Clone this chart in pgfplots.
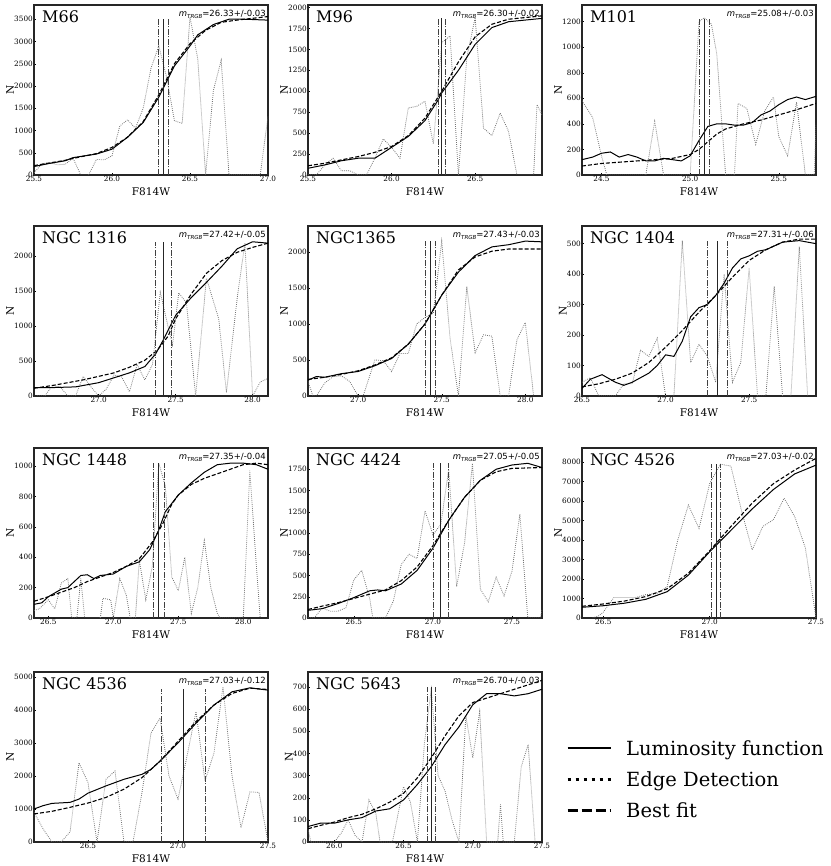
\documentclass[border=0pt]{standalone}
\usepackage{pgfplots}
\pgfplotsset{compat=1.18}
\usepackage{fontspec}
\setmainfont{DejaVu Serif}
\newfontfamily\dvsans{DejaVu Sans}
\definecolor{edgec}{gray}{0.45}
\definecolor{vcol}{gray}{0.25}
\newcommand{\mt}[2]{{\itshape m}\raisebox{-0.4ex}{\fontsize{5.5}{6}\selectfont\itshape TRGB}=#1+/-#2}
\newcommand{\gname}[1]{\node[anchor=north west, inner sep=0pt, xshift=8pt, yshift=-5pt, font=\fontsize{16}{17}\selectfont] at (rel axis cs:0,1) {#1};}
\newcommand{\gmt}[2]{\node[anchor=north east, inner sep=0pt, xshift=-2pt, yshift=-5pt, font=\dvsans\fontsize{8.5}{9}\selectfont] at (rel axis cs:1,1) {\mt{#1}{#2}};}
\pgfplotsset{
  panel/.style={scale only axis, width=234pt, height=170pt, anchor=north west,
    ymin=0, axis line style={line width=1.4pt, black!85},
    xtick pos=left, ytick pos=left, tick align=inside,
    major tick length=2pt, tick style={black, line width=0.4pt},
    ticklabel style={font=\fontsize{7.3}{8}\selectfont, inner sep=1pt},
    /pgf/number format/assume math mode=true,
    scaled ticks=false,
    yticklabel style={/pgf/number format/.cd, fixed, 1000 sep={}},
    xticklabel style={/pgf/number format/.cd, fixed, fixed zerofill, precision=1},
    xlabel={F814W}, ylabel={N},
    label style={font=\fontsize{10.5}{12}\selectfont},
    xlabel style={inner sep=0pt, yshift=-5pt},
    ylabel style={inner sep=0pt, yshift=-1pt},
    clip=true},
  lf/.style={black, line width=1pt, no marks},
  bf/.style={black, line width=1.1pt, dash pattern=on 4pt off 2pt, no marks},
  ed/.style={edgec, line width=0.8pt, dash pattern=on 0.8pt off 1.2pt, no marks},
  vs/.style={black!85, line width=0.7pt, no marks},
  vd/.style={vcol, line width=0.8pt, dash pattern=on 6pt off 1.5pt on 1pt off 1.5pt, no marks},
}
\begin{document}
\begin{tikzpicture}
\useasboundingbox (0pt,0pt) rectangle (830pt,866pt);

% ---------- M66 ----------
\begin{axis}[panel, at={(34pt,861pt)}, xmin=25.5, xmax=27.0, ymax=3820,
  xtick={25.5,26.0,26.5,27.0}, ytick={0,500,...,3500}]
\addplot[ed] coordinates {(25.5,50)(25.55,250)(25.6,280)(25.65,230)(25.7,240)(25.75,380)(25.8,0)(25.85,0)(25.9,350)(25.95,340)(26.0,430)(26.05,1100)(26.1,1240)(26.15,1050)(26.2,1500)(26.25,2400)(26.3,2900)(26.35,2200)(26.4,1220)(26.45,1160)(26.5,3550)(26.55,2600)(26.6,0)(26.65,1900)(26.7,2580)(26.75,0)(26.95,0)(27.0,1320)};
\addplot[lf] coordinates {(25.5,190)(25.6,260)(25.7,320)(25.75,390)(25.9,470)(26.0,580)(26.1,850)(26.2,1180)(26.3,1750)(26.35,2100)(26.4,2450)(26.5,2900)(26.55,3150)(26.65,3380)(26.75,3500)(26.85,3500)(27.0,3480)};
\addplot[bf] coordinates {(25.5,210)(25.6,270)(25.7,330)(25.8,410)(25.9,480)(26.0,620)(26.1,850)(26.2,1200)(26.3,1800)(26.35,2150)(26.4,2500)(26.5,2950)(26.6,3250)(26.7,3430)(26.8,3480)(27.0,3560)};
\addplot[vs] coordinates {(26.33,0)(26.33,3510)};
\addplot[vd] coordinates {(26.30,0)(26.30,3510)};
\addplot[vd] coordinates {(26.36,0)(26.36,3510)};
\gname{M66}\gmt{26.33}{0.03}
\end{axis}

% ---------- M96 ----------
\begin{axis}[panel, at={(308pt,861pt)}, xmin=25.5, xmax=26.9, ymax=2030,
  xtick={25.5,26.0,26.5}, ytick={0,250,...,2000}]
\addplot[ed] coordinates {(25.5,0)(25.55,0)(25.6,120)(25.65,200)(25.7,50)(25.75,50)(25.8,0)(25.85,0)(25.9,200)(25.95,430)(26.0,330)(26.05,200)(26.1,800)(26.15,820)(26.2,880)(26.25,370)(26.3,1580)(26.35,1660)(26.4,0)(26.45,1400)(26.5,1880)(26.55,560)(26.6,470)(26.65,740)(26.7,520)(26.75,0)(26.85,0)(26.87,840)(26.9,720)};
\addplot[lf] coordinates {(25.5,80)(25.6,120)(25.7,170)(25.8,200)(25.9,200)(26.0,330)(26.1,460)(26.2,650)(26.28,900)(26.3,980)(26.4,1250)(26.5,1560)(26.6,1760)(26.7,1830)(26.9,1870)};
\addplot[bf] coordinates {(25.5,110)(25.6,140)(25.7,180)(25.8,220)(25.9,270)(26.0,340)(26.1,470)(26.2,680)(26.3,1000)(26.4,1350)(26.5,1650)(26.6,1800)(26.7,1860)(26.9,1900)};
\addplot[vs] coordinates {(26.30,0)(26.30,1870)};
\addplot[vd] coordinates {(26.28,0)(26.28,1870)};
\addplot[vd] coordinates {(26.32,0)(26.32,1870)};
\gname{M96}\gmt{26.30}{0.02}
\end{axis}

% ---------- M101 ----------
\begin{axis}[panel, at={(582pt,861pt)}, xmin=24.39, xmax=25.71, ymax=1330,
  xtick={24.5,25.0,25.5}, ytick={0,200,...,1200}]
\addplot[ed] coordinates {(24.39,580)(24.45,450)(24.5,150)(24.53,0)(24.75,0)(24.8,420)(24.85,0)(25.0,0)(25.05,1200)(25.08,1230)(25.12,1180)(25.15,950)(25.2,0)(25.25,0)(25.27,560)(25.32,520)(25.37,240)(25.42,500)(25.47,610)(25.5,300)(25.55,150)(25.6,570)(25.65,0)(25.7,0)(25.71,400)};
\addplot[lf] coordinates {(24.39,120)(24.45,140)(24.5,170)(24.55,180)(24.6,140)(24.65,160)(24.7,140)(24.75,110)(24.8,110)(24.85,130)(24.9,120)(24.95,110)(25.0,150)(25.05,270)(25.1,380)(25.15,400)(25.2,400)(25.25,390)(25.3,390)(25.35,410)(25.4,470)(25.45,500)(25.5,550)(25.55,590)(25.6,610)(25.65,590)(25.71,615)};
\addplot[bf] coordinates {(24.39,70)(24.5,90)(24.6,100)(24.7,110)(24.8,120)(24.9,130)(25.0,160)(25.05,200)(25.1,260)(25.15,320)(25.2,360)(25.3,400)(25.4,430)(25.5,470)(25.6,510)(25.71,560)};
\addplot[vs] coordinates {(25.08,0)(25.08,1220)};
\addplot[vd] coordinates {(25.05,0)(25.05,1220)};
\addplot[vd] coordinates {(25.11,0)(25.11,1220)};
\gname{M101}\gmt{25.08}{0.03}
\end{axis}

% ---------- NGC 1316 ----------
\begin{axis}[panel, at={(34pt,640pt)}, xmin=26.58, xmax=28.1, ymax=2425,
  xtick={27.0,27.5,28.0}, ytick={0,500,...,2000}]
\addplot[ed] coordinates {(26.6,0)(26.65,0)(26.7,150)(26.75,130)(26.8,0)(26.85,0)(26.9,280)(26.95,130)(27.0,0)(27.05,100)(27.1,300)(27.15,270)(27.2,60)(27.25,450)(27.3,230)(27.35,450)(27.4,1480)(27.45,1000)(27.48,730)(27.52,1470)(27.57,1330)(27.63,0)(27.7,1680)(27.78,1100)(27.83,50)(27.9,1400)(27.95,2180)(28.0,0)(28.05,200)(28.1,250)};
\addplot[lf] coordinates {(26.58,120)(26.7,120)(26.85,130)(27.0,190)(27.1,260)(27.2,330)(27.3,420)(27.37,600)(27.42,800)(27.5,1150)(27.6,1400)(27.7,1620)(27.8,1850)(27.9,2100)(28.0,2200)(28.1,2180)};
\addplot[bf] coordinates {(26.58,110)(26.7,150)(26.8,190)(26.9,230)(27.0,280)(27.1,330)(27.2,410)(27.3,510)(27.38,650)(27.45,850)(27.5,1100)(27.6,1450)(27.7,1750)(27.8,1930)(27.9,2050)(28.0,2120)(28.1,2180)};
\addplot[vs] coordinates {(27.42,0)(27.42,2200)};
\addplot[vd] coordinates {(27.37,0)(27.37,2200)};
\addplot[vd] coordinates {(27.47,0)(27.47,2200)};
\gname{NGC 1316}\gmt{27.42}{0.05}
\end{axis}

% ---------- NGC1365 ----------
\begin{axis}[panel, at={(308pt,640pt)}, xmin=26.7, xmax=28.1, ymax=2360,
  xtick={27.0,27.5,28.0}, ytick={0,500,...,2000}]
\addplot[ed] coordinates {(26.7,200)(26.73,0)(26.75,0)(26.8,180)(26.85,270)(26.9,280)(26.95,200)(27.0,0)(27.03,0)(27.1,500)(27.15,490)(27.2,340)(27.25,590)(27.3,590)(27.35,1000)(27.4,1090)(27.45,1150)(27.5,2150)(27.55,800)(27.6,0)(27.65,1520)(27.7,600)(27.75,850)(27.8,830)(27.85,0)(27.9,0)(27.95,780)(28.0,1020)(28.05,0)};
\addplot[lf] coordinates {(26.7,220)(26.75,270)(26.8,260)(26.9,310)(27.0,340)(27.1,420)(27.2,520)(27.3,720)(27.4,1000)(27.5,1400)(27.6,1720)(27.7,1950)(27.8,2070)(27.9,2100)(28.0,2150)(28.1,2140)};
\addplot[bf] coordinates {(26.7,230)(26.8,260)(26.9,300)(27.0,350)(27.1,430)(27.2,530)(27.3,720)(27.4,1000)(27.5,1400)(27.6,1750)(27.7,1930)(27.8,2010)(27.9,2040)(28.1,2040)};
\addplot[vs] coordinates {(27.43,0)(27.43,2150)};
\addplot[vd] coordinates {(27.40,0)(27.40,2150)};
\addplot[vd] coordinates {(27.46,0)(27.46,2150)};
\gname{NGC1365}\gmt{27.43}{0.03}
\end{axis}

% ---------- NGC 1404 ----------
\begin{axis}[panel, at={(582pt,640pt)}, xmin=26.5, xmax=27.9, ymax=558,
  xtick={26.5,27.0,27.5}, ytick={0,100,...,500}]
\addplot[ed] coordinates {(26.5,45)(26.55,60)(26.6,0)(26.7,0)(26.75,40)(26.8,40)(26.85,150)(26.9,130)(26.95,190)(27.0,0)(27.05,0)(27.1,510)(27.15,110)(27.2,170)(27.25,130)(27.3,45)(27.35,400)(27.4,45)(27.45,110)(27.5,420)(27.55,0)(27.6,0)(27.65,360)(27.7,0)(27.75,0)(27.8,490)(27.85,0)};
\addplot[lf] coordinates {(26.5,25)(26.55,55)(26.62,70)(26.7,45)(26.75,35)(26.8,45)(26.85,60)(26.9,75)(26.95,100)(27.0,135)(27.05,130)(27.1,180)(27.15,260)(27.2,290)(27.25,300)(27.3,330)(27.35,370)(27.4,420)(27.45,450)(27.5,460)(27.55,475)(27.6,480)(27.7,505)(27.8,510)(27.9,500)};
\addplot[bf] coordinates {(26.5,30)(26.6,40)(26.7,55)(26.8,75)(26.9,110)(27.0,160)(27.1,215)(27.2,275)(27.3,330)(27.4,390)(27.5,445)(27.6,480)(27.7,505)(27.8,515)(27.9,515)};
\addplot[vs] coordinates {(27.31,0)(27.31,510)};
\addplot[vd] coordinates {(27.25,0)(27.25,510)};
\addplot[vd] coordinates {(27.37,0)(27.37,510)};
\gname{NGC 1404}\gmt{27.31}{0.06}
\end{axis}

% ---------- NGC 1448 ----------
\begin{axis}[panel, at={(34pt,418pt)}, xmin=26.39, xmax=28.19, ymax=1120,
  xtick={26.5,27.0,27.5,28.0}, ytick={0,200,...,1000}]
\addplot[ed] coordinates {(26.39,50)(26.43,60)(26.5,120)(26.55,60)(26.6,230)(26.65,260)(26.68,0)(26.72,0)(26.75,260)(26.78,0)(26.9,0)(26.92,130)(26.98,120)(27.0,0)(27.05,260)(27.1,150)(27.13,0)(27.17,0)(27.2,380)(27.25,120)(27.3,340)(27.35,1020)(27.4,870)(27.45,270)(27.5,180)(27.55,400)(27.6,30)(27.65,200)(27.7,510)(27.75,200)(27.8,30)(27.82,0)(28.0,0)(28.05,970)(28.1,350)(28.13,0)};
\addplot[lf] coordinates {(26.39,90)(26.45,100)(26.5,140)(26.6,190)(26.65,200)(26.7,240)(26.75,280)(26.8,285)(26.85,260)(26.9,280)(27.0,290)(27.1,340)(27.2,370)(27.28,450)(27.35,580)(27.4,700)(27.5,810)(27.6,890)(27.7,960)(27.8,1010)(27.9,1020)(28.0,1020)(28.1,1010)(28.19,980)};
\addplot[bf] coordinates {(26.39,110)(26.5,140)(26.6,170)(26.7,200)(26.8,240)(26.9,270)(27.0,300)(27.1,340)(27.2,390)(27.3,500)(27.38,620)(27.45,750)(27.5,810)(27.6,880)(27.7,920)(27.8,950)(27.9,980)(28.0,1010)(28.1,1020)(28.19,1010)};
\addplot[vs] coordinates {(27.35,0)(27.35,1020)};
\addplot[vd] coordinates {(27.31,0)(27.31,1020)};
\addplot[vd] coordinates {(27.39,0)(27.39,1020)};
\gname{NGC 1448}\gmt{27.35}{0.04}
\end{axis}

% ---------- NGC 4424 ----------
\begin{axis}[panel, at={(308pt,418pt)}, xmin=26.21, xmax=27.69, ymax=2000,
  xtick={26.5,27.0,27.5}, ytick={0,250,...,1750}]
\addplot[ed] coordinates {(26.21,0)(26.25,0)(26.3,120)(26.35,80)(26.4,80)(26.45,120)(26.5,450)(26.55,560)(26.6,230)(26.62,0)(26.7,0)(26.75,200)(26.8,630)(26.85,750)(26.9,700)(26.95,1260)(27.0,980)(27.05,1100)(27.1,1750)(27.15,370)(27.2,880)(27.25,1820)(27.3,340)(27.35,190)(27.4,480)(27.45,260)(27.5,550)(27.55,1220)(27.6,0)(27.68,0)(27.69,100)};
\addplot[lf] coordinates {(26.21,90)(26.3,110)(26.4,170)(26.5,240)(26.6,320)(26.65,330)(26.7,320)(26.8,400)(26.9,560)(27.0,820)(27.1,1150)(27.2,1420)(27.3,1620)(27.4,1750)(27.5,1800)(27.6,1820)(27.69,1770)};
\addplot[bf] coordinates {(26.21,100)(26.3,140)(26.4,180)(26.5,230)(26.6,280)(26.7,330)(26.8,440)(26.9,600)(27.0,850)(27.1,1150)(27.2,1420)(27.3,1620)(27.4,1720)(27.5,1760)(27.69,1770)};
\addplot[vs] coordinates {(27.05,0)(27.05,1820)};
\addplot[vd] coordinates {(27.00,0)(27.00,1820)};
\addplot[vd] coordinates {(27.10,0)(27.10,1820)};
\gname{NGC 4424}\gmt{27.05}{0.05}
\end{axis}

% ---------- NGC 4526 ----------
\begin{axis}[panel, at={(582pt,418pt)}, xmin=26.4, xmax=27.5, ymax=8730,
  xtick={26.5,27.0,27.5}, ytick={0,1000,...,8000}]
\addplot[ed] coordinates {(26.45,0)(26.48,120)(26.5,300)(26.55,1050)(26.6,1050)(26.65,1050)(26.7,1200)(26.75,1250)(26.8,1600)(26.85,4000)(26.9,5800)(26.95,4600)(27.0,6900)(27.05,7900)(27.1,7800)(27.15,5500)(27.2,3500)(27.25,4700)(27.3,5050)(27.35,6150)(27.4,5200)(27.45,3600)(27.5,0)};
\addplot[lf] coordinates {(26.4,550)(26.5,630)(26.6,760)(26.7,960)(26.8,1350)(26.9,2200)(27.0,3400)(27.1,4500)(27.2,5600)(27.3,6600)(27.4,7400)(27.5,7850)};
\addplot[bf] coordinates {(26.4,600)(26.5,720)(26.6,870)(26.7,1100)(26.8,1500)(26.9,2300)(27.0,3450)(27.1,4700)(27.2,5900)(27.3,6900)(27.4,7600)(27.5,8200)};
\addplot[vs] coordinates {(27.03,0)(27.03,7900)};
\addplot[vd] coordinates {(27.01,0)(27.01,7900)};
\addplot[vd] coordinates {(27.05,0)(27.05,7900)};
\gname{NGC 4526}\gmt{27.03}{0.02}
\end{axis}

% ---------- NGC 4536 ----------
\begin{axis}[panel, at={(34pt,194pt)}, xmin=26.2, xmax=27.5, ymax=5150,
  xtick={26.5,27.0,27.5}, ytick={0,1000,...,5000}]
\addplot[ed] coordinates {(26.2,900)(26.25,400)(26.3,0)(26.35,0)(26.4,300)(26.45,2400)(26.5,1800)(26.55,0)(26.6,1900)(26.65,2150)(26.7,0)(26.75,0)(26.8,1500)(26.85,3300)(26.9,3750)(26.95,2000)(27.0,1300)(27.05,2600)(27.1,3950)(27.15,1850)(27.2,2700)(27.25,4700)(27.3,2000)(27.35,430)(27.4,1520)(27.45,1500)(27.5,0)};
\addplot[lf] coordinates {(26.2,1000)(26.25,1100)(26.3,1170)(26.4,1200)(26.45,1300)(26.5,1480)(26.6,1700)(26.7,1900)(26.8,2050)(26.85,2200)(26.9,2450)(27.0,3000)(27.1,3600)(27.2,4150)(27.3,4550)(27.4,4670)(27.5,4600)};
\addplot[bf] coordinates {(26.2,850)(26.3,930)(26.4,1050)(26.5,1180)(26.6,1350)(26.7,1600)(26.8,1950)(26.9,2450)(27.0,3050)(27.1,3650)(27.2,4150)(27.3,4500)(27.4,4660)(27.5,4620)};
\addplot[vs] coordinates {(27.03,0)(27.03,4650)};
\addplot[vd] coordinates {(26.91,0)(26.91,4650)};
\addplot[vd] coordinates {(27.15,0)(27.15,4650)};
\gname{NGC 4536}\gmt{27.03}{0.12}
\end{axis}

% ---------- NGC 5643 ----------
\begin{axis}[panel, at={(308pt,194pt)}, xmin=25.81, xmax=27.5, ymax=768,
  xtick={26.0,26.5,27.0,27.5}, ytick={0,100,...,700}]
\addplot[ed] coordinates {(25.81,60)(25.83,0)(26.0,0)(26.05,40)(26.1,100)(26.15,30)(26.2,0)(26.25,190)(26.3,130)(26.33,0)(26.42,0)(26.5,250)(26.55,180)(26.6,0)(26.65,440)(26.7,690)(26.75,300)(26.8,230)(26.85,100)(26.9,0)(26.95,570)(27.0,380)(27.05,590)(27.1,0)(27.18,0)(27.2,170)(27.22,0)(27.3,0)(27.35,340)(27.4,440)(27.45,0)};
\addplot[lf] coordinates {(25.81,70)(25.9,85)(26.0,85)(26.1,100)(26.2,110)(26.3,140)(26.4,150)(26.5,190)(26.6,260)(26.7,340)(26.8,440)(26.9,520)(27.0,620)(27.1,670)(27.2,670)(27.3,660)(27.4,670)(27.5,690)};
\addplot[bf] coordinates {(25.81,60)(25.9,75)(26.0,90)(26.1,110)(26.2,125)(26.3,150)(26.4,180)(26.5,220)(26.6,290)(26.7,380)(26.8,480)(26.9,570)(27.0,630)(27.1,650)(27.2,670)(27.3,690)(27.4,710)(27.5,730)};
\addplot[vs] coordinates {(26.70,0)(26.70,700)};
\addplot[vd] coordinates {(26.67,0)(26.67,700)};
\addplot[vd] coordinates {(26.73,0)(26.73,700)};
\gname{NGC 5643}\gmt{26.70}{0.03}
\end{axis}

% ---------- Legend ----------
\begin{axis}[at={(0pt,0pt)}, anchor=south west, scale only axis, width=830pt, height=866pt,
  xmin=0, xmax=830, ymin=0, ymax=866, hide axis,
  legend style={at={(axis cs:566,128)}, anchor=north west, draw=none, fill=none,
    font=\fontsize{19.5}{23}\selectfont, row sep=11pt, inner sep=0pt,
    /tikz/every even column/.append style={column sep=0pt},
    /tikz/every odd column/.append style={column sep=12pt}},
  legend cell align=left,
  legend image code/.code={\draw[#1] (0pt,0pt) -- (43pt,0pt);}]
\addlegendimage{black, line width=2pt}
\addlegendentry{Luminosity function}
\addlegendimage{black, line width=3pt, dash pattern=on 3pt off 5pt}
\addlegendentry{Edge Detection}
\addlegendimage{black, line width=3pt, dash pattern=on 10pt off 4pt}
\addlegendentry{Best fit}
\end{axis}
\end{tikzpicture}
\end{document}
